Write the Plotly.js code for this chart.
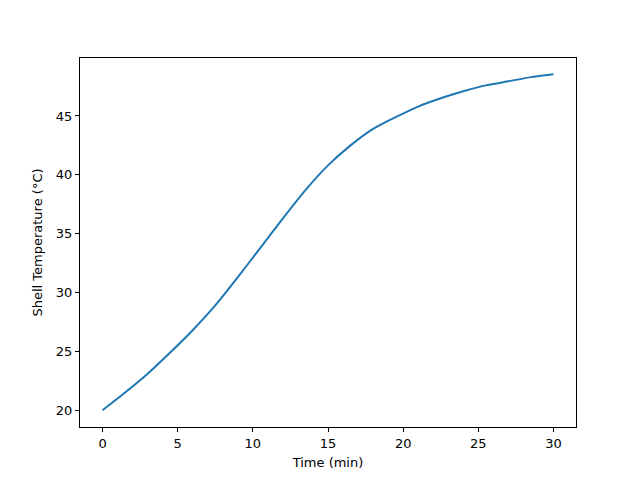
<!DOCTYPE html>
<html>
<head>
<meta charset="utf-8">
<script src="https://cdn.plot.ly/plotly-3.0.1.min.js"></script>
<style>body{margin:0;}</style>
</head>
<body>
<div id="chart" style="width:640px;height:480px;"></div>
<script>
// time points (min) and shell temperature
let timeMin = [0, 1.5, 3, 4.5, 6, 7.5, 9, 10.5, 12, 13.5, 15, 16.5, 18, 19.5, 21, 22.5, 24, 25.5, 27, 28.5, 30];
let shellTemp = [20.0, 21.5, 23.1, 24.9, 26.8, 28.9, 31.3, 33.8, 36.3, 38.7, 40.8, 42.5, 43.9, 44.9, 45.8, 46.5, 47.1, 47.6, 47.95, 48.3, 48.55];
let xTicks = [0, 5, 10, 15, 20, 25, 30];
let yTicks = [20, 25, 30, 35, 40, 45];

let trace = {
    type: "scatter",
    mode: "lines",
    x: timeMin,
    y: shellTemp,
    line: { color: "#1f77b4", width: 2, shape: "spline", smoothing: 0.6 },
    showlegend: false
};

// axis styling shared by both axes (matplotlib-like box)
let axisBase = {
    showgrid: false,
    zeroline: false,
    showline: true,
    mirror: true,
    linecolor: "black",
    linewidth: 1,
    ticks: "outside",
    ticklen: 4,
    tickwidth: 1,
    tickcolor: "black",
    tickfont: { family: "DejaVu Sans", size: 13, color: "black" }
};

let layout = {
    width: 640,
    height: 480,
    margin: { l: 80, r: 64, t: 58, b: 53 },
    paper_bgcolor: "white",
    plot_bgcolor: "white",
    xaxis: Object.assign({}, axisBase, {
        range: [-1.5, 31.5],
        tickvals: xTicks,
        title: { text: "Time (min)", font: { family: "DejaVu Sans", size: 13, color: "black" }, standoff: 8 }
    }),
    yaxis: Object.assign({}, axisBase, {
        range: [18.575, 49.925],
        tickvals: yTicks,
        title: { text: "Shell Temperature (°C)", font: { family: "DejaVu Sans", size: 13, color: "black" }, standoff: 10 }
    })
};

Plotly.newPlot("chart", [trace], layout, { displayModeBar: false });
</script>
</body>
</html>
